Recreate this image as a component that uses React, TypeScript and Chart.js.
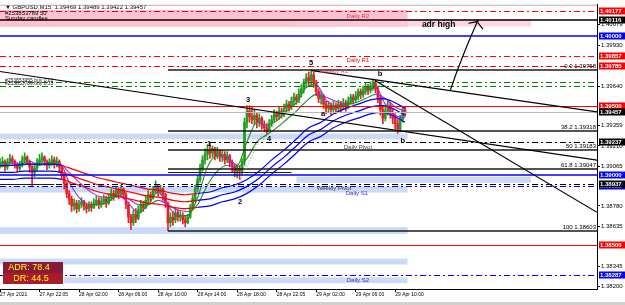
import React, { useEffect, useRef } from "react";
import { Chart, registerables } from "chart.js";

Chart.register(...registerables);

// ---------------- data ----------------
const xTickIdx = [0, 16, 32, 48, 64, 80, 96, 112, 128, 144, 160];
const xTickLabels = [
  "27 Apr 2021", "27 Apr 22:05", "28 Apr 02:00", "28 Apr 06:00", "28 Apr 10:00", "28 Apr 14:00",
  "28 Apr 18:00", "28 Apr 22:05", "29 Apr 02:00", "29 Apr 06:00", "29 Apr 10:00",
];
const yTickVals = [1.40079, 1.3993, 1.3964, 1.39359, 1.3921, 1.39065, 1.3878, 1.38635, 1.38345, 1.382];

const firstOpen = 1.3907;
const closes = [
  1.3908, 1.3910, 1.3906, 1.3909, 1.3912, 1.3910, 1.3907, 1.3905, 1.3908, 1.3911,
  1.3913, 1.3910, 1.3906, 1.3902, 1.3905, 1.3909, 1.3911, 1.3913, 1.3910, 1.3907,
  1.3909, 1.3911, 1.3908, 1.3910, 1.3906, 1.3900, 1.3894, 1.3887, 1.3883, 1.3878,
  1.3880, 1.3876, 1.3879, 1.3881, 1.3878, 1.3876, 1.3879, 1.3877, 1.3880, 1.3882,
  1.3879, 1.3881, 1.3883, 1.3880, 1.3884, 1.3887, 1.3885, 1.3889, 1.3887, 1.3890,
  1.3886, 1.3879, 1.3870, 1.3866, 1.3872, 1.3869, 1.3875, 1.3879, 1.3877, 1.3882,
  1.3886, 1.3884, 1.3889, 1.3892, 1.3888, 1.3890, 1.3886, 1.3880, 1.3866, 1.3870,
  1.3868, 1.3873, 1.3870, 1.3871, 1.3868, 1.3866, 1.3870, 1.3876, 1.3883, 1.3890,
  1.3897, 1.3905, 1.3911, 1.3915, 1.3918, 1.3916, 1.3919, 1.3914, 1.3917, 1.3913,
  1.3915, 1.3911, 1.3914, 1.3909, 1.3906, 1.3903, 1.3905, 1.3903, 1.3910, 1.3938,
  1.3946, 1.3942, 1.3940, 1.3943, 1.3938, 1.3941, 1.3936, 1.3934, 1.3932, 1.3937,
  1.3940, 1.3944, 1.3942, 1.3946, 1.3944, 1.3948, 1.3951, 1.3949, 1.3953, 1.3956,
  1.3954, 1.3959, 1.3962, 1.3966, 1.3970, 1.3968, 1.3972, 1.3966, 1.3960, 1.3955,
  1.3957, 1.3951, 1.3948, 1.3950, 1.3947, 1.3950, 1.3948, 1.3951, 1.3949, 1.3952,
  1.3950, 1.3953, 1.3956, 1.3954, 1.3957, 1.3960, 1.3958, 1.3961, 1.3963, 1.3961,
  1.3964, 1.3966, 1.3962, 1.3955, 1.3947, 1.3941, 1.3946, 1.3950, 1.3945, 1.3941,
  1.3937, 1.3933, 1.3940, 1.39469, 1.39457,
];
const highs = [
  1.3912, 1.3913, 1.3911, 1.3912, 1.3915, 1.3914, 1.3911, 1.3909, 1.3910, 1.3914,
  1.3916, 1.3914, 1.3911, 1.3907, 1.3908, 1.3912, 1.3915, 1.3916, 1.3914, 1.3911,
  1.3912, 1.3914, 1.3913, 1.3913, 1.3911, 1.3907, 1.3901, 1.3895, 1.3889, 1.3885,
  1.3883, 1.3882, 1.3882, 1.3884, 1.3882, 1.3880, 1.3881, 1.3881, 1.3883, 1.3885,
  1.3884, 1.3884, 1.3886, 1.3885, 1.3887, 1.3890, 1.3889, 1.3892, 1.3891, 1.3893,
  1.3891, 1.3888, 1.3881, 1.3872, 1.3875, 1.3876, 1.3878, 1.3882, 1.3881, 1.3885,
  1.3889, 1.3888, 1.3892, 1.3896, 1.3893, 1.3893, 1.3891, 1.3887, 1.3881, 1.3873,
  1.3874, 1.3876, 1.3875, 1.3874, 1.3873, 1.3871, 1.3872, 1.3879, 1.3886, 1.3893,
  1.3900, 1.3908, 1.3914, 1.3919, 1.3922, 1.3923, 1.3921, 1.3920, 1.3920, 1.3918,
  1.3918, 1.3917, 1.3917, 1.3915, 1.3911, 1.3908, 1.3908, 1.3907, 1.3912, 1.3941,
  1.3950, 1.3950, 1.3949, 1.3947, 1.3945, 1.3944, 1.3942, 1.3939, 1.3937, 1.3940,
  1.3943, 1.3947, 1.3946, 1.3949, 1.3948, 1.3951, 1.3954, 1.3953, 1.3956, 1.3959,
  1.3958, 1.3962, 1.3965, 1.3969, 1.3973, 1.3974, 1.39758, 1.3974, 1.3968, 1.3962,
  1.3960, 1.3958, 1.3953, 1.3953, 1.3952, 1.3953, 1.3952, 1.3954, 1.3953, 1.3955,
  1.3954, 1.3956, 1.3958, 1.3958, 1.3960, 1.3962, 1.3962, 1.3964, 1.3966, 1.3965,
  1.3967, 1.3969, 1.3968, 1.3964, 1.3957, 1.3950, 1.3950, 1.3953, 1.3952, 1.3948,
  1.3944, 1.3940, 1.3943, 1.3949, 1.39489,
];
const lows = [
  1.3905, 1.3906, 1.3903, 1.3904, 1.3907, 1.3907, 1.3905, 1.3902, 1.3903, 1.3906,
  1.3909, 1.3908, 1.3902, 1.3892, 1.3899, 1.3903, 1.3907, 1.3909, 1.3907, 1.3904,
  1.3905, 1.3907, 1.3905, 1.3906, 1.3902, 1.3897, 1.3890, 1.3884, 1.3879, 1.3874,
  1.3875, 1.3873, 1.3874, 1.3877, 1.3875, 1.3873, 1.3874, 1.3874, 1.3876, 1.3878,
  1.3876, 1.3877, 1.3879, 1.3877, 1.3879, 1.3882, 1.3882, 1.3884, 1.3883, 1.3885,
  1.3883, 1.3876, 1.3866, 1.3861, 1.3864, 1.3866, 1.3868, 1.3873, 1.3874, 1.3876,
  1.3880, 1.3881, 1.3883, 1.3887, 1.3885, 1.3886, 1.3882, 1.3877, 1.38603, 1.3863,
  1.3864, 1.3866, 1.3867, 1.3867, 1.3865, 1.3863, 1.3865, 1.3869, 1.3875, 1.3881,
  1.3888, 1.3895, 1.3903, 1.3908, 1.3911, 1.3912, 1.3913, 1.3911, 1.3912, 1.3910,
  1.3910, 1.3908, 1.3909, 1.3906, 1.3902, 1.3899, 1.3898, 1.3897, 1.3900, 1.3907,
  1.3934, 1.3938, 1.3937, 1.3936, 1.3934, 1.3935, 1.3933, 1.3931, 1.3929, 1.3931,
  1.3935, 1.3938, 1.3939, 1.3940, 1.3941, 1.3942, 1.3945, 1.3946, 1.3947, 1.3950,
  1.3951, 1.3952, 1.3956, 1.3959, 1.3963, 1.3964, 1.3965, 1.3963, 1.3957, 1.3952,
  1.3951, 1.3948, 1.3944, 1.3945, 1.3943, 1.3945, 1.3944, 1.3946, 1.3945, 1.3947,
  1.3946, 1.3948, 1.3951, 1.3951, 1.3952, 1.3954, 1.3955, 1.3956, 1.3958, 1.3958,
  1.3959, 1.3961, 1.3959, 1.3952, 1.3943, 1.3937, 1.3939, 1.3943, 1.3941, 1.3937,
  1.3933, 1.3930, 1.3931, 1.3938, 1.39422,
];

const bandIdx = [0, 5, 10, 15, 20, 25, 30, 35, 40, 45, 50, 55, 60, 65, 70, 75, 80, 85, 90, 95, 100, 105, 110, 115, 120, 125, 130, 135, 140, 145, 150, 155, 160, 164];
const bandUpper = [1.3907, 1.3907, 1.3908, 1.3908, 1.3908, 1.3907, 1.3904, 1.3901, 1.3898, 1.3896, 1.3894, 1.3892, 1.3890, 1.3889, 1.3887, 1.3886, 1.3887, 1.3888, 1.3891, 1.3893, 1.3897, 1.3903, 1.3911, 1.3918, 1.3926, 1.3934, 1.3938, 1.3944, 1.3948, 1.3951, 1.3954, 1.3955, 1.3952, 1.3948];
const bandMid = [1.3902, 1.3902, 1.3903, 1.3903, 1.3903, 1.3902, 1.3899, 1.3896, 1.3893, 1.3891, 1.3889, 1.3887, 1.3885, 1.3884, 1.3882, 1.3881, 1.3882, 1.3883, 1.3886, 1.3888, 1.3892, 1.3898, 1.3906, 1.3913, 1.3921, 1.3929, 1.3933, 1.3939, 1.3943, 1.3946, 1.3949, 1.3950, 1.3947, 1.3943];
const bandLower = [1.3897, 1.3897, 1.3898, 1.3898, 1.3898, 1.3897, 1.3894, 1.3891, 1.3888, 1.3886, 1.3884, 1.3882, 1.3880, 1.3879, 1.3877, 1.3876, 1.3877, 1.3878, 1.3881, 1.3883, 1.3887, 1.3893, 1.3901, 1.3908, 1.3916, 1.3924, 1.3928, 1.3934, 1.3938, 1.3941, 1.3944, 1.3945, 1.3942, 1.3938];

const maIdx = [0, 4, 8, 12, 16, 20, 24, 28, 32, 36, 40, 44, 48, 52, 56, 60, 64, 68, 72, 76, 80, 84, 88, 92, 96, 100, 104, 108, 112, 116, 120, 124, 128, 132, 136, 140, 144, 148, 152, 156, 160, 164];
const fastMA = [1.3908, 1.3909, 1.3908, 1.3910, 1.3907, 1.3909, 1.3909, 1.3895, 1.3884, 1.3879, 1.3879, 1.3881, 1.3886, 1.3880, 1.3873, 1.3879, 1.3888, 1.3878, 1.3871, 1.3871, 1.3884, 1.3906, 1.3914, 1.3913, 1.3907, 1.3924, 1.3938, 1.3936, 1.3939, 1.3946, 1.3952, 1.3963, 1.3965, 1.3954, 1.3949, 1.3950, 1.3955, 1.3960, 1.3963, 1.3951, 1.3943, 1.3941];
const slowMA = [1.3906, 1.3907, 1.3907, 1.3908, 1.3908, 1.3908, 1.3908, 1.3902, 1.3895, 1.3889, 1.3885, 1.3884, 1.3885, 1.3883, 1.3879, 1.3879, 1.3882, 1.3879, 1.3875, 1.3874, 1.3879, 1.3893, 1.3903, 1.3907, 1.3906, 1.3912, 1.3924, 1.3929, 1.3934, 1.3940, 1.3946, 1.3953, 1.3958, 1.3956, 1.3953, 1.3951, 1.3952, 1.3955, 1.3958, 1.3955, 1.3949, 1.3946];

const levelPrices = [1.40177, 1.40116, 1.4, 1.39857, 1.39785, 1.39667, 1.39638, 1.395, 1.39457, 1.39237, 1.39, 1.38937, 1.38922, 1.385, 1.38287];

const fibNames = ["0.0", "38.2", "50", "61.8", "100"];
const fibPrices = [1.39758, 1.39318, 1.39183, 1.39047, 1.38603];
const fibStartIdx = 68;

const zoneFrom = [0, 120, 0, 120, 0, 0, 0, 26];
const zoneTo = [165, 215, 165, 215, 165, 165, 165, 165];
const zoneTop = [1.40185, 1.40122, 1.39299, 1.38989, 1.38918, 1.38628, 1.38402, 1.38268];
const zoneBottom = [1.40065, 1.40068, 1.39257, 1.38946, 1.38876, 1.38579, 1.3836, 1.38226];

const trendFromIdx = [0, 126.3, 151.8];
const trendFromPrice = [1.39744, 1.39751, 1.3968];
const trendToIdx = [241.7, 241.7, 241.7];
const trendToPrice = [1.39108, 1.39454, 1.38734];

const dotFromIdx = [76.9, 95.9, 106.1];
const dotFromPrice = [1.38812, 1.38904, 1.39236];
const dotToIdx = [83.8, 108.5, 125.5];
const dotToPrice = [1.39045, 1.39391, 1.39744];

const arrowFrom = [182.2, 1.39603];
const arrowTo = [193.5, 1.40111];

const pivotTexts = ["Daily R2", "Daily R1", "Weekly R1", "Daily Pivot", "Weekly Pivot", "Daily S1", "Daily S2"];
const pivotTextIdx = [144.9, 144.9, 135.2, 144.9, 135.2, 144.5, 144.9];
const pivotTextPrice = [1.40139, 1.39822, 1.39744, 1.392, 1.38904, 1.38869, 1.38247];

const waveTexts = ["1", "2", "3", "4", "5", "a", "b", "b"];
const waveIdx = [84.6, 97.2, 100.4, 108.9, 125.9, 130.8, 153.9, 163.1];
const wavePrice = [1.39222, 1.38812, 1.39539, 1.39257, 1.39808, 1.3944, 1.3973, 1.39243];

const axisBoxPrices = [1.40177, 1.40116, 1.4, 1.39857, 1.39785, 1.395, 1.39457, 1.38922, 1.39237, 1.39, 1.38937, 1.385, 1.38287];

const adrLabel = "ADR: 78.4";
const drLabel = "DR: 44.5";
const headerLines = ["\u25BC GBPUSD,M15  1.39469 1.39489 1.39422 1.39457", "#253853789 50", "Sunday candles"];
const buyTexts = ["#253853955 buy 0.01", "#253853789 buy 0.13"];

// ---------------- styles ----------------
const RED = "#ff0000";
const BLUE = "#0000ff";
const BLACK = "#000000";
const GREENL = "#008000";
const DASHDOT = [6, 3, 2, 3];
const levelStyles = [
  { c: RED, w: 1, d: DASHDOT },
  { c: BLACK, w: 1.5, d: [] },
  { c: BLUE, w: 1.5, d: [] },
  { c: RED, w: 1, d: DASHDOT },
  { c: RED, w: 1, d: DASHDOT },
  { c: GREENL, w: 1, d: DASHDOT },
  { c: GREENL, w: 1, d: DASHDOT },
  { c: RED, w: 1, d: [] },
  { c: "#b8b8b8", w: 1, d: [] },
  { c: BLACK, w: 1, d: DASHDOT },
  { c: BLUE, w: 1.5, d: [] },
  { c: BLACK, w: 1, d: DASHDOT },
  { c: BLUE, w: 1, d: DASHDOT },
  { c: RED, w: 1, d: [] },
  { c: BLUE, w: 1, d: DASHDOT },
];
const zoneColors = ["rgba(255,182,200,0.85)", "rgba(255,200,220,0.8)", "rgba(190,210,245,0.8)", "rgba(190,210,245,0.8)", "rgba(190,210,245,0.8)", "rgba(190,210,245,0.8)", "rgba(190,210,245,0.8)", "rgba(190,210,245,0.8)"];
const pivotTextColors = ["#e0304a", RED, "#e85060", "#404040", "#303030", "#3030e0", "#3030c0"];
const axisBoxColors = [RED, BLACK, BLUE, RED, RED, RED, BLACK, BLUE, BLACK, BLUE, BLACK, RED, BLUE];
const UP = "#1f9e1f";
const DOWN = "#ee1c24";
const FONT = '"Liberation Sans", Arial, sans-serif';
const RED_FROM = 25;
const RED_TO = 80;

const overlayPlugin = {
  id: "mt4overlay",
  beforeDatasetsDraw(chart: any) {
    const { ctx, chartArea: a } = chart;
    const X = (v: number) => chart.scales.x.getPixelForValue(v);
    const Y = (v: number) => chart.scales.y.getPixelForValue(v);
    ctx.save();
    ctx.beginPath();
    ctx.rect(a.left, a.top, a.right - a.left, a.bottom - a.top);
    ctx.clip();
    zoneFrom.forEach((f, k) => {
      const x0 = X(f), x1 = X(zoneTo[k]);
      const y0 = Y(zoneTop[k]), y1 = Y(zoneBottom[k]);
      ctx.fillStyle = zoneColors[k];
      ctx.fillRect(x0, y0, x1 - x0, y1 - y0);
    });
    ctx.restore();
  },
  afterDatasetsDraw(chart: any) {
    const { ctx, chartArea: a } = chart;
    const X = (v: number) => chart.scales.x.getPixelForValue(v);
    const Y = (v: number) => chart.scales.y.getPixelForValue(v);
    ctx.save();
    ctx.beginPath();
    ctx.rect(a.left, a.top, a.right - a.left, a.bottom - a.top);
    ctx.clip();

    const hline = (p: number, x0: number, x1: number, c: string, w: number, d: number[]) => {
      const yy = w === 1 ? Math.round(Y(p)) + 0.5 : Math.round(Y(p));
      ctx.strokeStyle = c;
      ctx.lineWidth = w;
      ctx.setLineDash(d);
      ctx.beginPath();
      ctx.moveTo(x0, yy);
      ctx.lineTo(x1, yy);
      ctx.stroke();
    };

    levelPrices.forEach((p, k) => {
      const s = levelStyles[k];
      hline(p, a.left, a.right, s.c, s.w, s.d);
    });
    hline(1.39025, X(68), X(118), "#202020", 1, []);
    hline(1.38937, X(0), X(22), "#202020", 1, []);

    fibPrices.forEach((p) => {
      hline(p, X(fibStartIdx), a.right, "#1a1a1a", 1.3, []);
    });
    ctx.setLineDash([]);
    ctx.font = `6px ${FONT}`;
    ctx.fillStyle = "#000";
    ctx.textAlign = "right";
    ctx.textBaseline = "alphabetic";
    fibPrices.forEach((p, k) => {
      ctx.fillText(`${fibNames[k]} ${p.toFixed(5)}`, a.right - 1, Y(p) - 1.5);
    });

    ctx.strokeStyle = "#000";
    ctx.lineWidth = 1.2;
    trendFromIdx.forEach((f, k) => {
      ctx.beginPath();
      ctx.moveTo(X(f), Y(trendFromPrice[k]));
      ctx.lineTo(X(trendToIdx[k]), Y(trendToPrice[k]));
      ctx.stroke();
    });

    ctx.strokeStyle = "#909090";
    ctx.lineWidth = 1;
    ctx.setLineDash([1, 2]);
    dotFromIdx.forEach((f, k) => {
      ctx.beginPath();
      ctx.moveTo(X(f), Y(dotFromPrice[k]));
      ctx.lineTo(X(dotToIdx[k]), Y(dotToPrice[k]));
      ctx.stroke();
    });
    ctx.setLineDash([]);

    const ax0 = X(arrowFrom[0]), ay0 = Y(arrowFrom[1]);
    const ax1 = X(arrowTo[0]), ay1 = Y(arrowTo[1]);
    ctx.strokeStyle = "#000";
    ctx.lineWidth = 1.2;
    ctx.beginPath();
    ctx.moveTo(ax0, ay0);
    ctx.quadraticCurveTo((ax0 + ax1) / 2 - 2, (ay0 + ay1) / 2, ax1, ay1);
    ctx.stroke();
    const ang = Math.atan2(ay1 - ay0, ax1 - ax0);
    const hl = 10;
    ctx.beginPath();
    ctx.moveTo(ax1 + Math.cos(ang + Math.PI - 0.9) * hl, ay1 + Math.sin(ang + Math.PI - 0.9) * hl);
    ctx.quadraticCurveTo(ax1 - 2, ay1 + 1, ax1, ay1);
    ctx.quadraticCurveTo(ax1 + 2, ay1 + 1, ax1 + Math.cos(ang + Math.PI + 0.9) * hl, ay1 + Math.sin(ang + Math.PI + 0.9) * hl);
    ctx.stroke();

    ctx.textAlign = "center";
    ctx.textBaseline = "middle";
    ctx.font = `6px ${FONT}`;
    pivotTexts.forEach((t, k) => {
      ctx.fillStyle = pivotTextColors[k];
      ctx.fillText(t, X(pivotTextIdx[k]), Y(pivotTextPrice[k]));
    });

    ctx.font = `bold 8.5px ${FONT}`;
    ctx.fillStyle = "#000";
    ctx.textAlign = "left";
    ctx.fillText("adr high", X(170.8), Y(1.40083));

    ctx.font = `bold 7.5px ${FONT}`;
    ctx.textAlign = "center";
    waveTexts.forEach((t, k) => {
      ctx.fillText(t, X(waveIdx[k]), Y(wavePrice[k]));
    });

    ctx.font = `5px ${FONT}`;
    ctx.textAlign = "left";
    ctx.fillStyle = "#202020";
    ctx.fillText(buyTexts[0], 5, Y(1.39667) - 2);
    ctx.fillText(buyTexts[1], 5, Y(1.39638) - 3);

    ctx.font = `6px ${FONT}`;
    ctx.fillStyle = "#000";
    ctx.fillText(headerLines[0], 5, 7);
    ctx.fillText(headerLines[1], 5, 13);
    ctx.fillText(headerLines[2], 5, 18);

    ctx.fillStyle = "#8b1a3a";
    ctx.fillRect(3, 262, 60, 11);
    ctx.fillStyle = "#a81c2c";
    ctx.fillRect(3, 273, 60, 11);
    ctx.fillStyle = "#ffff00";
    ctx.font = `9px ${FONT}`;
    ctx.textAlign = "center";
    ctx.fillText(adrLabel, 29, 268);
    ctx.fillText(drLabel, 31, 279);

    ctx.strokeStyle = "#a0a0a0";
    ctx.lineWidth = 1;
    ctx.beginPath();
    ctx.moveTo(a.left, a.top + 0.5);
    ctx.lineTo(a.right, a.top + 0.5);
    ctx.stroke();
    ctx.restore();
  },
  afterDraw(chart: any) {
    const { ctx, chartArea: a, width } = chart;
    const Y = (v: number) => chart.scales.y.getPixelForValue(v);
    ctx.save();
    ctx.font = `bold 6px ${FONT}`;
    ctx.textAlign = "left";
    ctx.textBaseline = "middle";
    axisBoxPrices.forEach((p, k) => {
      const yy = Math.round(Y(p));
      ctx.fillStyle = axisBoxColors[k];
      ctx.fillRect(a.right + 2, yy - 3.5, width - a.right - 2, 7);
      ctx.fillStyle = "#fff";
      ctx.fillText(p.toFixed(5), a.right + 3, yy + 0.5);
    });
    ctx.restore();
  },
};

export default function App() {
  const ref = useRef<HTMLCanvasElement | null>(null);
  useEffect(() => {
    document.body.style.margin = "0";
    const canvas = ref.current;
    if (!canvas) return;
    const opens = closes.map((c, i) => (i === 0 ? firstOpen : closes[i - 1]));
    const colors = closes.map((c, i) => (c >= opens[i] ? UP : DOWN));
    const bodyData = closes.map((c, i) => ({ x: i, y: [opens[i], c] }));
    const wickData = closes.map((c, i) => ({
      x: i,
      y: [Math.min(lows[i], opens[i], c), Math.max(highs[i], opens[i], c)],
    }));
    const bandSeg = {
      borderColor: (c: any) => (c.p0.parsed.x >= RED_FROM && c.p0.parsed.x < RED_TO ? RED : BLUE),
    };
    const slopeSeg = {
      borderColor: (c: any) => (c.p1.parsed.y >= c.p0.parsed.y ? "#1e8c1e" : "#9b30d0"),
    };
    const lineDs = (vals: number[], idx: number[], seg: any, w: number) => ({
      type: "line",
      data: vals.map((v, k) => ({ x: idx[k], y: v })),
      borderWidth: w,
      pointRadius: 0,
      fill: false,
      cubicInterpolationMode: "monotone",
      segment: seg,
      borderColor: BLUE,
      order: 1,
    });

    const chart = new Chart(canvas, {
      type: "bar",
      data: {
        datasets: [
          { type: "bar", data: wickData, backgroundColor: colors, barThickness: 1, grouped: false, borderWidth: 0, order: 3 },
          { type: "bar", data: bodyData, backgroundColor: colors, barThickness: 2, grouped: false, borderWidth: 0, order: 2 },
          lineDs(bandUpper, bandIdx, bandSeg, 1.2),
          lineDs(bandMid, bandIdx, bandSeg, 1.2),
          lineDs(bandLower, bandIdx, bandSeg, 1.2),
          lineDs(slowMA, maIdx, slopeSeg, 1.1),
          lineDs(fastMA, maIdx, slopeSeg, 1.1),
        ] as any,
      },
      options: {
        animation: false,
        responsive: true,
        maintainAspectRatio: false,
        events: [],
        layout: { padding: 0 },
        plugins: { legend: { display: false }, tooltip: { enabled: false } },
        scales: {
          x: {
            type: "linear",
            min: 0,
            max: 241.7,
            offset: false,
            grid: { display: true, drawOnChartArea: false, drawTicks: true, tickLength: 3, color: "#000", offset: false },
            border: { display: true, color: "#000" },
            ticks: {
              autoSkip: false,
              maxRotation: 0,
              align: "start",
              padding: 0,
              color: "#000",
              font: { size: 5, family: FONT },
              callback: (_v: any, i: number) => xTickLabels[i] ?? "",
            },
            afterBuildTicks: (s: any) => {
              s.ticks = xTickIdx.map((v) => ({ value: v }));
            },
            afterFit: (s: any) => {
              s.height = 13;
            },
          },
          y: {
            type: "linear",
            position: "right",
            min: 1.38184,
            max: 1.40224,
            grid: { display: true, drawOnChartArea: false, drawTicks: true, tickLength: 3, color: "#000" },
            border: { display: true, color: "#000" },
            ticks: {
              padding: 1,
              color: "#000",
              font: { size: 6, family: FONT },
              callback: (v: any) => Number(v).toFixed(5),
            },
            afterBuildTicks: (s: any) => {
              s.ticks = yTickVals.map((v) => ({ value: v }));
            },
            afterFit: (s: any) => {
              s.width = 28;
            },
          },
        },
      } as any,
      plugins: [overlayPlugin],
    });
    return () => chart.destroy();
  }, []);

  return (
    <div style={{ width: 625, background: "#fff" }}>
      <div style={{ position: "relative", width: 625, height: 302 }}>
        <canvas ref={ref} />
      </div>
      <div style={{ height: 3, background: "#d4d0c8" }} />
    </div>
  );
}
